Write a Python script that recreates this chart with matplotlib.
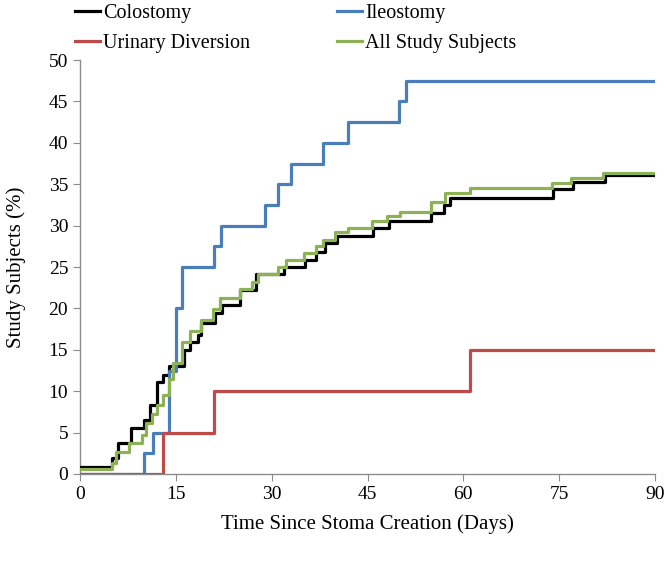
import matplotlib
matplotlib.use("Agg")
import matplotlib.pyplot as plt

# --- data (days, cumulative % of subjects) ---
colostomy_t = [0, 5, 6, 8, 10, 11, 12, 13, 14, 16.2, 17.2, 18.5, 19, 21.1, 22.2, 25, 27.6, 32, 35.2, 37, 38.3, 40.2, 45.9, 48.3, 55, 56.9, 57.9, 74, 77.1, 82.2, 90]
colostomy_v = [0.9, 1.9, 3.7, 5.6, 6.5, 8.3, 11.1, 12.0, 13.0, 15.0, 16.0, 16.8, 18.2, 19.4, 20.4, 22.2, 24.1, 25.0, 25.8, 26.8, 27.9, 28.7, 29.7, 30.5, 31.5, 32.5, 33.3, 34.4, 35.3, 36.1, 36.1]

ileostomy_t = [0, 10, 11.5, 14, 15, 16, 21, 22, 29, 31, 33, 38, 42, 50, 51, 90]
ileostomy_v = [0, 2.5, 5, 12.5, 20, 25, 27.5, 30, 32.5, 35, 37.5, 40, 42.5, 45, 47.5, 47.5]

urinary_t = [0, 13, 21, 61, 90]
urinary_v = [0, 5, 10, 15, 15]

all_t = [0, 5, 5.7, 7.6, 9.7, 10.4, 11.2, 12, 13, 14, 14.6, 15.9, 17.2, 19, 20.8, 21.9, 25, 26.9, 27.9, 31, 32.3, 35, 37, 38.1, 39.9, 42, 45.7, 48, 50.1, 55, 57.1, 61, 73.8, 76.9, 81.9, 90]
all_v = [0.6, 1.3, 2.7, 3.7, 4.7, 6.1, 7.3, 8.3, 9.5, 11.5, 13.4, 16.0, 17.3, 18.6, 19.9, 21.2, 22.4, 23.2, 24.2, 25.0, 25.8, 26.7, 27.5, 28.3, 29.2, 29.7, 30.5, 31.1, 31.7, 32.8, 33.9, 34.5, 35.1, 35.7, 36.3, 36.3]

x_ticks = [0, 15, 30, 45, 60, 75, 90]
y_ticks = [0, 5, 10, 15, 20, 25, 30, 35, 40, 45, 50]

plt.rcParams['font.family'] = ['Liberation Serif', 'DejaVu Serif']

fig = plt.figure(figsize=(6.67, 5.65), dpi=100)
ax = fig.add_axes([80/667, 1-474/565, 575/667, 414/565])

lw = 2.3
l1, = ax.step(colostomy_t, colostomy_v, where='post', color='#000000', lw=lw, zorder=3, label='Colostomy')
l2, = ax.step(ileostomy_t, ileostomy_v, where='post', color='#4A7EBB', lw=lw, zorder=4, label='Ileostomy')
l3, = ax.step(urinary_t, urinary_v, where='post', color='#BE4B48', lw=lw, zorder=5, label='Urinary Diversion')
l4, = ax.step(all_t, all_v, where='post', color='#8DB255', lw=lw, zorder=6, label='All Study Subjects')

ax.set_xlim(0, 90)
ax.set_ylim(0, 50)
ax.set_xticks(x_ticks)
ax.set_yticks(y_ticks)
for s in ['top', 'right']:
    ax.spines[s].set_visible(False)
for s in ['left', 'bottom']:
    ax.spines[s].set_color('#8C8C8C')
    ax.spines[s].set_linewidth(1.0)
ax.tick_params(axis='both', colors='#8C8C8C', labelcolor='black', labelsize=14, length=5, direction='out')
ax.set_xlabel('Time Since Stoma Creation (Days)', fontsize=15, labelpad=8)
ax.set_ylabel('Study Subjects (%)', fontsize=15, labelpad=16)

fig.legend(handles=[l1, l3, l2, l4], loc='upper left', bbox_to_anchor=(74/667, 1 - 3/565), ncol=2,
           frameon=False, fontsize=14.5, handlelength=1.25, handletextpad=0.15,
           columnspacing=4.3, labelspacing=0.55, borderaxespad=0.0, borderpad=0.05)

fig.savefig('out.png', dpi=100)
